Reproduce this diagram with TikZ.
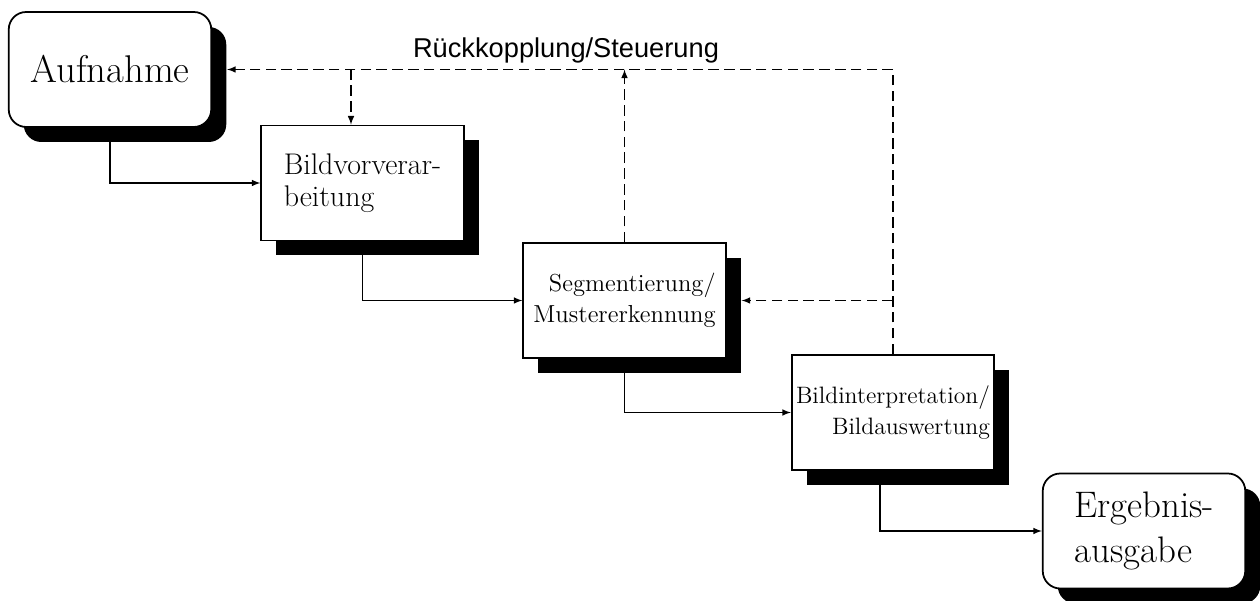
\documentclass[tikz,border=0pt]{standalone}
\usepackage{fontspec}
\newfontfamily\labelfont{Liberation Sans}
\usetikzlibrary{shadows}

\begin{document}
\begin{tikzpicture}[
	>=latex,
	box/.style={draw,line width=1pt,fill=white,minimum width=4.05cm,minimum height=2.3cm,inner sep=0pt,
		drop shadow={shadow xshift=0.3cm,shadow yshift=-0.3cm,fill=black,opacity=1}},
	endbox/.style={box,rounded corners=0.35cm},
	flow/.style={->,line width=0.7pt},
	fb/.style={line width=0.7pt,dash pattern=on 6pt off 3pt}
]
	\useasboundingbox (0,0) rectangle (25.2,12.02);
	% Verarbeitungskette
	\node[endbox,font=\fontsize{22}{24}\selectfont](aufnahme)at(2.2,10.63){Aufnahme};
	\node[box,align=left,font=\fontsize{17}{18}\selectfont](vorver)at(7.25,8.36){Bildvorverar-\\beitung};
	\node[box,align=right,font=\fontsize{14}{17.5}\selectfont](segment)at(12.49,6.01){Segmentierung/\\Mustererkennung};
	\node[box,align=right,font=\fontsize{13.5}{17.5}\selectfont](interp)at(17.86,3.77){Bildinterpretation/\\Bildauswertung};
	\node[endbox,align=left,font=\fontsize{21}{26}\selectfont](ergebnis)at(22.88,1.4){Ergebnis-\\ausgabe};
	\draw[flow](aufnahme.south)|-(vorver.west);
	\draw[flow](vorver.south)|-(segment.west);
	\draw[flow](segment.south)|-(interp.west);
	\draw[flow]([xshift=-2.6mm]interp.south)|-(ergebnis.west);
	% Rueckkopplung
	\coordinate(fbtop)at(interp.north|-aufnahme.east);
	\node[anchor=base,font=\labelfont\fontsize{15.5}{18}\selectfont](fblabel)at(11.32,10.86){Rückkopplung/Steuerung};
	\draw[fb](interp.north)--(fbtop);
	\draw[fb,->](fbtop)--([xshift=3mm]aufnahme.east);
	\draw[fb,->](segment.north)--(segment.north|-fbtop);
	\draw[fb,->]([xshift=-2.3mm]vorver.north|-fbtop)--([xshift=-2.3mm]vorver.north);
	\draw[fb,->](interp.north|-segment.east)--([xshift=3mm]segment.east);
\end{tikzpicture}
\end{document}
